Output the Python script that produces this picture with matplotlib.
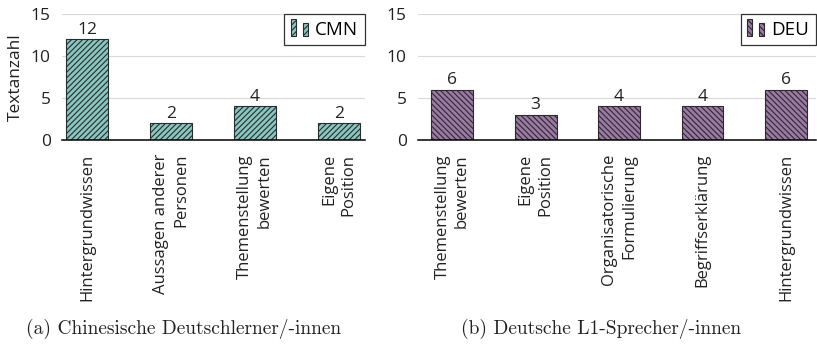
import matplotlib.pyplot as plt
from matplotlib.legend_handler import HandlerBase
from matplotlib.patches import Rectangle

# Textanzahl pro Argumentationstyp
cmn_labels = ["Hintergrundwissen", "Aussagen anderer\nPersonen",
              "Themenstellung\nbewerten", "Eigene\nPosition"]
cmn_values = [12, 2, 4, 2]

deu_labels = ["Themenstellung\nbewerten", "Eigene\nPosition",
              "Organisatorische\nFormulierung", "Begriffserklärung",
              "Hintergrundwissen"]
deu_values = [6, 3, 4, 4, 6]

yticks = [0, 5, 10, 15]

teal = "#88c6c0"
purple = "#9b78a5"
dark = "#2b2b2b"

plt.rcParams["font.family"] = ["Open Sans", "DejaVu Sans"]
plt.rcParams["hatch.linewidth"] = 0.8
plt.rcParams["hatch.color"] = dark


class TwoBars(HandlerBase):
    # pgfplots-like ybar legend image: two small bars of different height
    def create_artists(self, legend, orig, xd, yd, w, h, fontsize, trans):
        bw = w * 0.28
        y0 = -yd - 0.1 * h
        r1 = Rectangle((-xd, y0), bw, h * 1.25, facecolor=orig.get_facecolor(),
                       edgecolor=dark, hatch=orig.get_hatch(), lw=0.8, transform=trans)
        r2 = Rectangle((-xd + w * 0.62, y0), bw, h * 0.95, facecolor=orig.get_facecolor(),
                       edgecolor=dark, hatch=orig.get_hatch(), lw=0.8, transform=trans)
        return [r1, r2]


def panel(ax, labels, values, color, hatch, name, xlim):
    xs = range(len(values))
    bars = ax.bar(xs, values, width=0.5, color=color, edgecolor=dark,
                  linewidth=0.8, hatch=hatch, label=name, zorder=3)
    ax.bar_label(bars, padding=1, fontsize=12.5, color="#222222")
    ax.set_xlim(*xlim)
    ax.set_ylim(0, 15)
    ax.set_yticks(yticks)
    ax.set_xticks(list(xs))
    ax.set_xticklabels(labels, rotation=90, ha="center", va="top",
                       multialignment="right", linespacing=1.3)
    ax.tick_params(axis="both", length=0, labelsize=12, colors="#222222")
    ax.tick_params(axis="y", labelsize=12.5)
    ax.tick_params(axis="x", pad=10)
    ax.tick_params(axis="y", pad=8)
    ax.grid(axis="y", color="#d9d9d9", linewidth=0.8, zorder=0)
    for s in ["left", "right", "top"]:
        ax.spines[s].set_visible(False)
    ax.spines["bottom"].set_linewidth(1.1)
    ax.spines["bottom"].set_color("black")
    ax.spines["bottom"].set_zorder(4)
    handle = bars.patches[0]
    leg = ax.legend(handles=[handle], labels=[name],
                    handler_map={handle: TwoBars()},
                    loc="upper right", borderaxespad=0, fancybox=False,
                    fontsize=13.5, handlelength=1.0, handletextpad=0.3,
                    borderpad=0.35, framealpha=1)
    leg.get_frame().set_edgecolor("#333333")
    leg.get_frame().set_linewidth(0.9)
    return bars


fig = plt.figure(figsize=(8.17, 3.44), dpi=100)
ax1 = fig.add_axes([62 / 817, 1 - 140 / 344, 303 / 817, 126 / 344])
ax2 = fig.add_axes([418 / 817, 1 - 140 / 344, 398 / 817, 126 / 344])

panel(ax1, cmn_labels, cmn_values, teal, "//////", "CMN", (-0.3, 3.31))
panel(ax2, deu_labels, deu_values, purple, "\\\\\\\\\\\\", "DEU", (-0.41, 4.36))

ax1.set_ylabel("Textanzahl", fontsize=12.5, color="#222222", labelpad=5)

fig.text(184 / 817, 1 - 329 / 344, "(a) Chinesische Deutschlerner/-innen",
         family="cmr10", fontsize=14, ha="center", va="center", color="#222222")
fig.text(601 / 817, 1 - 329 / 344, "(b) Deutsche L1-Sprecher/-innen",
         family="cmr10", fontsize=14, ha="center", va="center", color="#222222")

fig.savefig("out.png", dpi=100)
